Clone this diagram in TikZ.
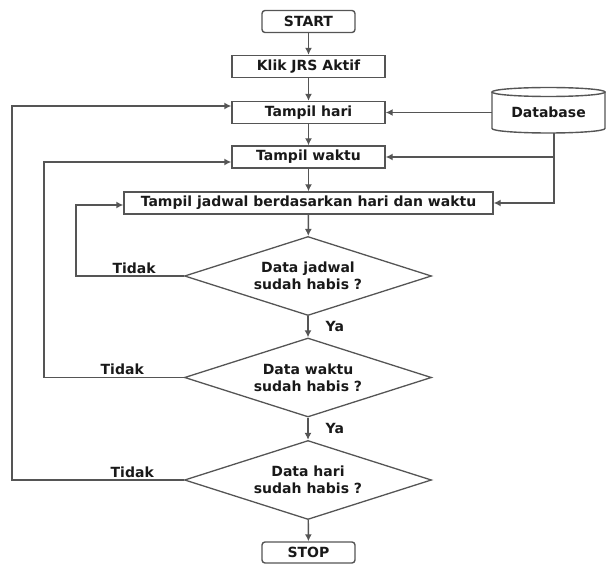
\documentclass[tikz,border=0pt]{standalone}
\usepackage{fontspec}
\setmainfont{DejaVu Sans}
\usetikzlibrary{arrows.meta,positioning,calc,shapes.geometric}
\definecolor{lineg}{RGB}{85,85,85}
\definecolor{textk}{RGB}{25,25,25}

\begin{document}
\begin{tikzpicture}[x=1pt, y=-1pt,
    every node/.style={font=\fontsize{14}{17}\selectfont\bfseries, text=textk},
    term/.style={draw=lineg, line width=1.4pt, rounded corners=3pt,
                 minimum width=93pt, minimum height=22pt, inner sep=0pt},
    proc/.style={draw=lineg, line width=1.4pt, minimum width=153pt,
                 minimum height=22pt, inner sep=0pt},
    cek/.style={diamond, aspect=3.1, draw=lineg, line width=1.3pt, minimum width=247pt,
                minimum height=79pt, inner sep=0pt, align=center},
    flow/.style={draw=lineg, line width=1.4pt, -{Latex[length=7pt,width=7pt]}},
    lbl/.style={inner sep=1pt}]
  \useasboundingbox (0,0) rectangle (606,564);

  % main column
  \node[term] (start) at (308.5,21.5) {START};
  \node[proc] (klik) at (308.5,66.5) {Klik JRS Aktif};
  \node[proc] (hari) at (308.5,112.5) {Tampil hari};
  \node[proc] (waktu) at (308.5,157) {Tampil waktu};
  \node[proc, minimum width=369pt] (jadwal) at (308.5,203) {Tampil jadwal berdasarkan hari dan waktu};
  \node[cek] (cekjadwal) at (308,276) {Data jadwal\\sudah habis ?};
  \node[cek] (cekwaktu) at (308,377.5) {Data waktu\\sudah habis ?};
  \node[cek] (cekhari) at (308,480) {Data hari\\sudah habis ?};
  \node[term, minimum height=21pt] (stop) at (308.5,552.5) {STOP};

  % database
  \draw[lineg, line width=1.4pt, fill=white] (492,92) -- (492,128.5)
        arc[start angle=180, end angle=360, x radius=56.5pt, y radius=4.5pt] -- (605,92);
  \draw[lineg, line width=1.4pt] (548.5,92) ellipse[x radius=56.5pt, y radius=4.5pt];
  \node[minimum width=113pt, minimum height=42pt, inner sep=0pt] (db) at (548.5,112) {Database};
  \coordinate (dbtap) at ([xshift=5.5pt]db.south);

  \draw[flow] (start) -- (klik);
  \draw[flow] (klik) -- (hari);
  \draw[flow] (hari) -- (waktu);
  \draw[flow] (waktu) -- (jadwal);
  \draw[flow] (jadwal) -- (cekjadwal);
  \draw[flow] (cekjadwal) -- node[lbl, right=16pt] {Ya} (cekwaktu);
  \draw[flow] (cekwaktu) -- node[lbl, right=16pt] {Ya} (cekhari);
  \draw[flow] (cekhari) -- (stop);

  % loops back
  \draw[flow] (cekjadwal.west) -- node[lbl, above=1pt, pos=0.46] {Tidak} ++(-108,0)
        |- ([yshift=-2pt]jadwal.west);
  \draw[flow] (cekwaktu.west) -- node[lbl, above=1pt, pos=0.44] {Tidak} ++(-140,0)
        |- ([yshift=-5pt]waktu.west);
  \draw[flow] (cekhari.west) -- node[lbl, above=1pt, pos=0.3] {Tidak} ++(-172,0)
        |- ([yshift=6.5pt]hari.west);

  % from database
  \draw[flow] (hari.east -| db.west) -- (hari.east);
  \draw[flow] (dbtap) |- (waktu.east);
  \draw[flow] (dbtap) |- (jadwal.east);
\end{tikzpicture}
\end{document}
